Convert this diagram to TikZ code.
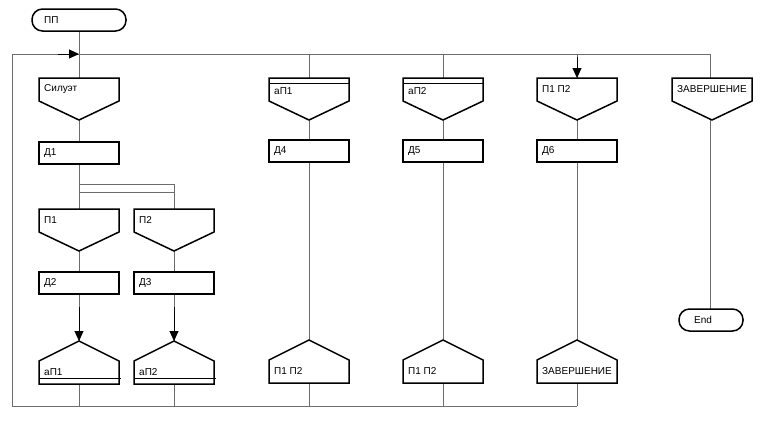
\documentclass[tikz,border=0pt]{standalone}
\usepackage{fontspec}
\setmainfont{Liberation Sans}
\usetikzlibrary{arrows.meta}
\tikzset{
  conn/.style={draw=gray!85!black, line width=0.9pt},
  arr/.style={draw=black, line width=1pt, -{Triangle[length=10pt,width=9pt]}},
  shp/.style={draw=black, line width=1.5pt, fill=white, line join=miter},
  lbl/.style={anchor=west, font=\fontsize{10}{11}\selectfont, inner sep=0pt},
  act/.style={shp, rectangle, minimum width=80pt, minimum height=22pt, inner sep=0pt},
  term/.style={shp, rounded corners=10.5pt, minimum height=22pt, inner sep=0pt},
}
% header (branch start) : name, cx, ytop, text
\newcommand\hdrshape[4]{%
  \draw[shp] (#2-40,#3) -- (#2+40,#3) -- (#2+40,#3+23) -- (#2,#3+42) -- (#2-40,#3+23) -- cycle;
  \node[lbl] (#1) at (#2-35,#3+11) {#4};
  \coordinate (#1t) at (#2,#3); \coordinate (#1b) at (#2,#3+42);}
% header with double top line
\newcommand\hdrdbl[4]{%
  \hdrshape{#1}{#2}{#3}{}%
  \draw[black,line width=1pt] (#2-40,#3+5) -- (#2+40,#3+5);
  \node[lbl] at (#2-35,#3+13) {#4};}
% address (branch end) : name, cx, ytop(point), text
\newcommand\adrshape[4]{%
  \draw[shp] (#2,#3) -- (#2+40,#3+20) -- (#2+40,#3+43) -- (#2-40,#3+43) -- (#2-40,#3+20) -- cycle;
  \node[lbl] (#1) at (#2-35,#3+31) {#4};
  \coordinate (#1t) at (#2,#3); \coordinate (#1b) at (#2,#3+43);}
\newcommand\adrund[4]{%
  \adrshape{#1}{#2}{#3}{#4}%
  \draw[black,line width=1pt] (#2-40,#3+37) -- (#2+42,#3+37);}
\begin{document}
\begin{tikzpicture}[x=1pt,y=-1pt]
\useasboundingbox (0,0) rectangle (760,421);
% ---- coordinates of the loop frame
\coordinate (tl) at (12,54);
\coordinate (bl) at (12,406);
\coordinate (tr) at (710,54);
\coordinate (br) at (577,406);
\foreach \x/\n in {79/a,174/b,309/c,443/d,577/e,710/f}{
  \coordinate (top\n) at (\x,54);
  \coordinate (bot\n) at (\x,406);
}
% ---- connectors
\draw[conn] (bl) -- (tl) -- (tr);
\draw[conn] (bl) -- (br);
\draw[conn] (79,31) -- (bota);
\coordinate (fka) at (79,184); \coordinate (fkb) at (174,184);
\coordinate (fkc) at (79,192); \coordinate (fkd) at (174,192);
\draw[conn] (fka) -- (fkb) -- (botb);
\draw[conn] (fkc) -- (fkd);
\draw[conn] (topc) -- (botc);
\draw[conn] (topd) -- (botd);
\draw[conn] (tope) -- (bote);
\draw[conn] (topf) -- (710,310);
% ---- terminal
\node[term, minimum width=94pt] (pp) at (79,20) {};
\node[lbl] at (44,20) {ПП};
\node[term, minimum width=64pt] (end) at (711,320) {};
\node[lbl] at (694,320) {End};
% ---- headers
\hdrshape{sil}{79}{78}{Силуэт}
\hdrshape{p1}{79}{209}{П1}
\hdrshape{p2}{174}{209}{П2}
\hdrdbl{ap1h}{309}{78}{аП1}
\hdrdbl{ap2h}{443}{78}{аП2}
\hdrshape{p12h}{577}{78}{П1 П2}
\hdrshape{zav}{712}{78}{ЗАВЕРШЕНИЕ}
% ---- actions
\node[act] (d1) at (79,153) {}; \node[lbl] at (44,153) {Д1};
\node[act] (d2) at (79,283) {}; \node[lbl] at (44,283) {Д2};
\node[act] (d3) at (174,283) {}; \node[lbl] at (139,283) {Д3};
\node[act] (d4) at (309,151) {}; \node[lbl] at (274,151) {Д4};
\node[act] (d5) at (443,151) {}; \node[lbl] at (408,151) {Д5};
\node[act] (d6) at (577,151) {}; \node[lbl] at (542,151) {Д6};
% ---- addresses
\adrund{a1}{79}{341}{аП1}
\adrund{a2}{174}{341}{аП2}
\adrshape{a3}{309}{340}{П1 П2}
\adrshape{a4}{443}{340}{П1 П2}
\adrshape{a5}{577}{340}{ЗАВЕРШЕНИЕ}
% ---- arrows
\coordinate (arA) at (79,307); \coordinate (arB) at (174,307);
\draw[arr] (arA) -- (a1t);
\draw[arr] (arB) -- (a2t);
\coordinate (arC) at (577,57);
\draw[arr] (arC) -- (p12ht);
\coordinate (arD) at (58,54);
\draw[arr] (arD) -- (topa);
\end{tikzpicture}
\end{document}
